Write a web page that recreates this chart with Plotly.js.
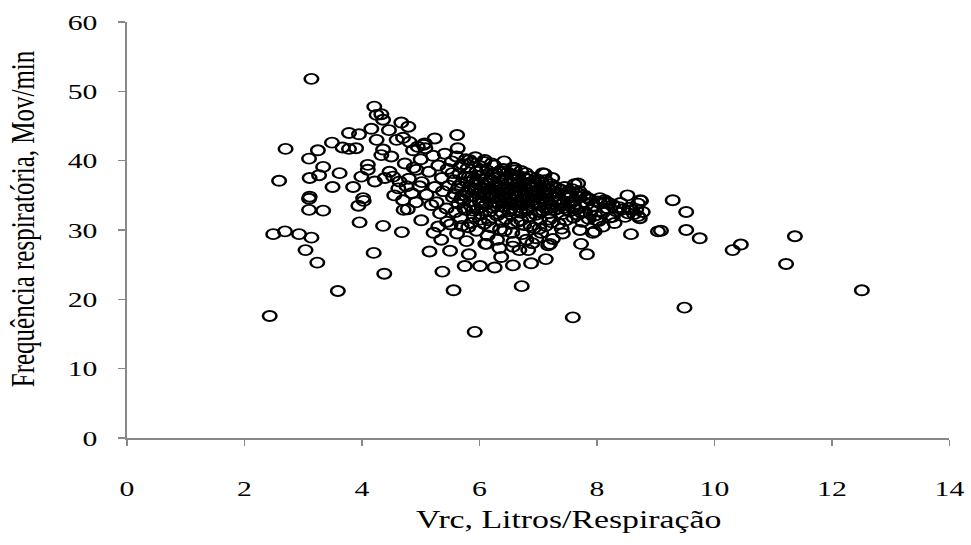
<!DOCTYPE html>
<html>
<head>
<meta charset="utf-8">
<script src="https://cdn.plot.ly/plotly-3.0.1.min.js"></script>
<style>
html,body{margin:0;padding:0;background:#fff;overflow:hidden;width:971px;height:545px;}
#chart{width:719px;height:545px;transform:scaleX(1.3505);transform-origin:0 0;}
</style>
</head>
<body>
<div id="chart"></div>
<script>
// Scattered points (read individually)
const xScatter = [3.14,4.21,4.25,4.33,4.36,4.67,4.79,4.16,3.78,3.95,4.46,4.25,4.59,4.70,3.49,3.67,3.78,3.90,2.70,3.25,3.10,4.36,4.50,4.33,4.87,4.81,3.34,3.62,3.27,3.11,2.59,4.10,4.10,3.99,4.22,3.50,3.85,4.73,4.47,4.39,4.53,4.64,4.76,4.93,3.11,4.02,
  3.10,3.10,3.34,3.94,4.03,3.96,4.36,4.68,4.71,5.01,2.49,2.69,2.93,3.14,3.04,3.24,4.20,4.38,3.59,2.43,5.15,
  5.37,5.56,5.92,7.59,6.72,5.50,5.35,5.82,5.75,6.01,6.26,6.57,6.88,7.13,6.37,6.10,7.73,7.83,7.20,6.97,7.93,6.68,6.83,6.34,6.57,
  9.49,9.75,10.31,10.45,11.37,11.22,12.51,
  8.52,8.74,8.78,8.73,8.58,9.04,9.09,9.29,9.52,9.52,8.13,8.38,8.53,8.30,7.96,8.10,7.11,7.24,7.68,6.09,6.57,6.12,7.17,6.80,7.42,7.71,7.99,8.27,8.67,
  5.62,5.24,5.63,5.07,5.83,6.60,7.08];
const yScatter = [51.8,47.8,46.6,46.7,45.9,45.5,44.9,44.6,44.0,43.8,44.4,43.0,43.0,43.3,42.6,41.9,41.7,41.8,41.7,41.5,40.3,41.6,40.6,40.8,41.5,42.7,39.1,38.2,37.9,37.5,37.1,39.4,38.7,37.7,37.0,36.2,36.2,39.6,38.4,37.5,37.7,37.0,36.3,38.7,34.8,34.6,
  34.5,32.9,32.8,33.5,34.2,31.1,30.6,29.7,32.9,31.4,29.4,29.8,29.4,28.9,27.1,25.3,26.7,23.7,21.2,17.6,26.9,
  24.0,21.3,15.3,17.4,21.9,27.0,28.6,26.5,24.8,24.8,24.6,24.9,25.2,25.8,26.1,28.0,28.0,26.5,28.0,28.8,29.6,27.1,27.1,27.4,27.6,
  18.8,28.8,27.1,27.9,29.1,25.1,21.3,
  35.0,34.3,32.6,31.7,29.4,29.8,29.9,34.3,32.6,30.0,34.3,33.3,32.4,31.0,29.8,30.5,38.1,37.5,36.7,40.1,39.0,28.0,27.8,28.6,29.5,30.0,31.4,31.9,33.0,
  43.7,43.2,41.8,42.5,40.1,38.9,38.2];

// Dense cluster points (estimated)
const xCluster = [5.02,5.08,5.10,5.14,5.18,5.21,5.24,5.27,5.30,5.33,5.36,5.38,5.41,5.44,5.46,5.48,5.51,5.53,5.55,5.57,5.59,5.61,5.63,5.64,5.66,5.68,5.70,5.71,5.73,5.75,5.76,5.78,5.80,5.81,5.83,5.85,5.86,5.88,5.90,5.91,5.93,5.95,5.96,5.98,6.00,6.01,6.03,6.05,6.06,6.08,6.10,6.11,6.13,6.15,6.16,6.18,6.20,6.21,6.23,6.25,6.26,6.28,6.30,6.31,6.33,6.35,6.36,6.38,6.40,6.41,6.43,6.45,6.46,6.48,6.50,6.51,6.53,6.55,6.56,6.58,6.60,6.61,6.63,6.65,6.66,6.68,6.70,6.71,6.73,6.75,6.76,6.78,6.80,6.81,6.83,6.85,6.86,6.88,6.90,6.91,6.93,6.95,6.96,6.98,7.00,7.01,7.03,7.05,7.06,7.08,7.10,7.11,7.13,7.15,7.16,7.18,7.20,7.21,7.23,7.25,7.27,7.29,7.31,7.33,7.35,7.37,7.39,7.41,7.43,7.45,7.47,7.50,7.52,7.54,7.56,7.58,7.60,7.62,7.65,7.67,7.70,7.72,7.75,7.78,7.80,7.83,7.86,7.88,7.91,7.94,7.97,8.00,8.03,8.06,8.10,8.14,8.18,8.22,8.27,8.33,8.40,8.48,8.55,8.63,8.70,
  5.72,5.79,5.84,5.92,5.99,6.04,6.09,6.14,6.19,6.24,6.29,6.34,6.39,6.44,6.49,6.54,6.59,6.64,6.69,6.74,6.79,6.84,6.89,6.94,6.99,7.04,7.09,7.14,7.19,7.24,6.02,6.12,6.22,6.32,6.42,6.52,6.62,6.72,6.82,6.92,5.87,5.97,6.07,6.17,6.27,6.37,6.47,6.57,6.67,6.77,
  4.85,4.92,4.98,4.80,4.88,5.00,4.95,5.05,4.62,4.55,4.70,4.78,
  7.45,7.55,7.62,7.70,7.78,7.85,8.05,8.12,8.20,8.45,8.60,8.70,8.75,
  5.62,5.78,5.95,6.14,6.30,6.43,6.58,6.73,6.90,7.05,7.25,7.40,5.70,5.45,5.30,5.22,
  5.65,5.74,5.82,5.89,5.94,6.03,6.06,6.12,6.18,6.23,6.27,6.33,6.38,6.44,6.48,6.53,6.57,6.62,6.66,6.71,6.76,6.81,6.86,6.91,6.96,7.01,7.07,7.12,7.17,7.22,7.28,7.33,7.38,7.44,7.49,7.55,7.61,7.68,7.74,7.82,
  5.58,5.54,5.67,5.77,5.93,6.08,6.25,6.42,6.60,6.79,5.69,5.86,6.01,6.20,6.39,6.55,6.71,6.87,7.02,7.19];
const yCluster = [36.9,41.8,35.1,38.4,33.6,40.7,36.2,34.0,39.3,32.4,37.5,35.6,41.0,33.1,38.8,36.4,30.8,39.9,34.7,37.2,32.6,40.6,35.9,33.8,38.1,31.7,36.8,39.5,34.3,37.6,32.9,35.4,38.9,30.4,36.1,33.5,39.7,34.9,37.3,31.9,35.7,38.4,33.0,36.6,34.2,39.2,32.3,37.9,35.1,30.9,36.9,33.7,38.6,34.6,31.4,37.1,35.8,39.6,33.2,36.3,34.0,38.2,32.1,35.5,37.7,30.1,34.4,36.7,33.4,38.8,35.2,31.6,37.4,34.1,36.0,32.7,38.0,35.0,29.6,36.8,33.6,37.9,34.8,31.2,36.2,35.6,32.5,38.5,34.3,36.5,30.7,35.1,33.1,37.3,34.6,31.9,36.1,35.3,33.5,37.0,30.3,34.9,32.2,36.4,33.9,35.7,31.5,34.5,36.9,32.8,35.2,33.3,30.6,34.2,36.0,32.4,35.0,33.7,31.1,34.7,36.3,32.9,35.4,33.1,30.9,34.4,35.8,32.3,34.0,33.2,31.4,35.5,34.6,32.7,33.9,35.9,31.8,34.3,33.0,32.2,34.8,33.5,31.2,34.0,32.6,33.7,31.6,34.4,32.9,33.4,32.1,34.1,31.3,33.8,32.5,34.0,33.1,31.8,33.6,32.7,33.9,31.9,33.2,32.3,33.8,
  35.0,36.9,34.1,36.0,37.8,33.3,35.9,36.7,33.9,37.5,34.8,36.2,35.0,37.1,33.8,36.9,35.3,34.0,36.9,33.7,35.9,36.6,34.2,35.6,37.3,33.6,36.4,34.9,35.8,33.5,35.5,34.9,35.3,33.9,36.1,34.6,35.7,35.2,34.5,36.3,35.8,35.2,36.4,35.4,36.1,35.8,35.4,34.3,33.3,36.4,
  35.3,34.0,36.3,37.4,39.0,40.2,42.0,42.3,36.0,35.0,34.3,33.0,
  36.2,35.2,36.6,35.6,35.0,34.6,34.6,34.0,33.9,33.0,32.9,32.0,34.2,
  29.5,28.4,29.9,29.2,28.6,29.9,28.3,29.4,28.1,29.6,28.7,30.2,30.6,31.2,30.5,29.6,
  36.3,33.2,37.7,32.8,36.9,38.7,33.9,37.4,32.7,38.0,33.5,38.4,32.6,34.7,38.3,33.1,37.4,32.9,37.8,33.9,37.6,32.8,37.7,33.8,36.8,32.6,35.5,37.2,33.1,36.6,34.1,36.0,33.6,35.1,32.9,34.9,33.4,35.3,32.5,34.7,
  35.2,38.2,39.1,40.2,40.5,39.8,39.3,39.9,38.6,38.2,34.5,31.0,31.5,30.4,31.2,30.9,31.4,30.6,30.2,31.5];

const xTicks = [0,2,4,6,8,10,12,14];
const yTicks = [0,10,20,30,40,50,60];
const xTitle = 'Vrc, Litros/Respiração';
const yTitle = 'Frequência respiratória, Mov/min';

const serif = 'Liberation Serif, Times New Roman, serif';

const trace = {
  type: 'scatter',
  mode: 'markers',
  x: xScatter.concat(xCluster),
  y: yScatter.concat(yCluster),
  marker: {symbol: 'circle-open', size: 10, color: '#000', line: {color: '#000', width: 1.9}},
  hoverinfo: 'x+y',
  showlegend: false
};

const layout = {
  width: 719, height: 545,
  margin: {l: 94, r: 16, t: 22, b: 107},
  paper_bgcolor: '#fff', plot_bgcolor: '#fff',
  font: {family: serif, size: 22, color: '#000'},
  xaxis: {
    range: [0, 14], tickvals: xTicks, ticktext: xTicks.map(String),
    showgrid: false, zeroline: false, showline: true, linecolor: '#888', linewidth: 1.5,
    ticks: 'outside', ticklen: 6, tickwidth: 1.2, tickcolor: '#888', ticklabelstandoff: 24,
    tickfont: {family: serif, size: 22, color: '#000'}
  },
  yaxis: {
    range: [0, 60], tickvals: yTicks, ticktext: yTicks.map(String),
    showgrid: false, zeroline: false, showline: true, linecolor: '#888', linewidth: 1.5,
    ticks: 'outside', ticklen: 5, tickwidth: 1.5, tickcolor: '#888', ticklabelstandoff: 11,
    tickfont: {family: serif, size: 22, color: '#000'}
  },
  annotations: [
    {text: xTitle, xref: 'paper', yref: 'paper', x: 0.5375, y: -0.197, xanchor: 'center', yanchor: 'middle',
     showarrow: false, font: {family: serif, size: 25, color: '#000'}},
    {text: yTitle, xref: 'paper', yref: 'paper', x: -0.1276, y: 0.5264, xanchor: 'center', yanchor: 'middle',
     textangle: -90, showarrow: false, font: {family: serif, size: 25, color: '#000'}}
  ]
};

Plotly.newPlot('chart', [trace], layout, {displayModeBar: false, staticPlot: true});
</script>
</body>
</html>
